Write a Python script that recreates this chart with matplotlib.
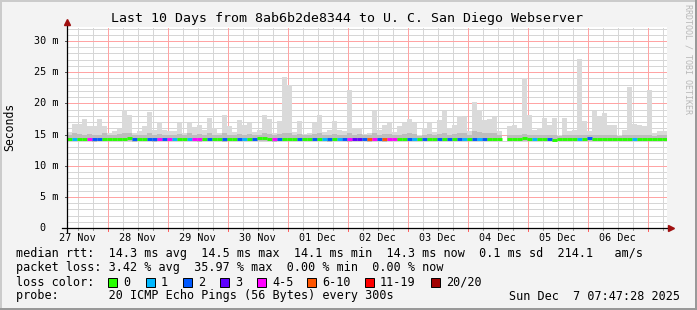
import numpy as np
import matplotlib
matplotlib.use("Agg")
import matplotlib.pyplot as plt
from matplotlib.patches import Rectangle

# 2-hour bins over the last 10 days (hours since Nov 27 07:47:28)
smoke_max = [
    15.4, 16.7, 16.7, 17.5, 16.4, 16.3, 17.5, 16.4, 15.2, 15.5,
    15.9, 18.9, 18.1, 15.2, 15.6, 16.3, 18.6, 15.7, 17.0, 15.8,
    15.6, 15.5, 16.8, 15.3, 16.9, 16.2, 16.5, 15.7, 17.6, 16.0,
    15.2, 18.1, 16.4, 15.4, 17.3, 16.5, 16.9, 15.4, 15.8, 18.1,
    17.5, 15.3, 17.2, 24.2, 22.9, 15.4, 17.1, 15.1, 15.3, 16.8,
    18.2, 15.4, 15.7, 17.1, 15.7, 15.6, 22.1, 16.0, 16.0, 15.1,
    15.3, 18.7, 15.7, 16.5, 16.9, 15.4, 16.4, 16.9, 17.5, 16.9,
    14.9, 16.0, 16.9, 15.4, 17.3, 18.8, 16.0, 16.5, 17.9, 17.8,
    15.5, 20.2, 19.0, 17.3, 17.5, 17.8, 15.5, np.nan, 16.4, 16.5,
    16.0, 24.0, 18.1, 15.8, 16.0, 17.6, 16.5, 17.6, 15.0, 17.6,
    15.5, 15.7, 27.1, 17.1, 15.5, 18.7, 17.8, 18.4, 16.5, 16.5,
    15.0, 15.7, 22.7, 16.7, 16.5, 16.3, 22.2, 15.2, 15.5, 15.5,
]
smoke_band = [
    15.0, 15.2, 15.1, 15.0, 15.1, 14.9, 15.0, 15.2, 15.0, 15.0,
    15.1, 15.3, 15.2, 15.0, 14.9, 15.0, 15.3, 15.0, 15.1, 15.0,
    15.0, 14.9, 15.1, 15.0, 15.2, 15.0, 15.1, 15.0, 15.2, 15.0,
    14.9, 15.2, 15.0, 15.0, 15.1, 15.0, 15.1, 14.9, 15.0, 15.2,
    15.1, 14.9, 15.1, 15.3, 15.2, 15.0, 15.1, 14.9, 15.0, 15.1,
    15.2, 15.0, 15.0, 15.1, 15.0, 15.0, 15.2, 15.0, 15.1, 14.9,
    15.0, 15.2, 15.0, 15.1, 15.1, 15.0, 15.0, 15.1, 15.2, 15.1,
    14.8, 15.0, 15.1, 15.0, 15.1, 15.2, 15.0, 15.1, 15.3, 15.3,
    15.0, 15.5, 15.4, 15.2, 15.2, 15.3, 15.0, np.nan, 15.0, 15.0,
    14.9, 15.1, 15.0, 14.9, 15.0, 15.0, 14.9, 15.0, 14.8, 15.0,
    14.9, 14.9, 15.0, 15.0, 14.9, 15.0, 15.0, 15.0, 14.9, 14.9,
    14.8, 14.9, 15.0, 14.9, 14.9, 15.0, 14.9, 14.8, 14.9, 14.9,
]
smoke_min = [
    13.9, 13.9, 14.0, 13.9, 13.9, 13.8, 13.9, 14.0, 13.9, 13.9,
    14.0, 13.9, 13.9, 13.8, 13.9, 14.0, 13.9, 13.8, 13.9, 13.9,
    13.9, 13.9, 14.0, 13.9, 13.9, 13.9, 13.8, 14.0, 13.9, 13.9,
    13.9, 13.8, 14.0, 13.9, 13.9, 13.9, 14.0, 13.9, 13.9, 13.9,
    13.9, 13.8, 13.9, 13.9, 13.9, 14.0, 13.9, 13.9, 14.0, 13.9,
    13.9, 13.9, 13.8, 13.9, 13.9, 13.9, 13.8, 13.9, 13.9, 13.9,
    13.8, 13.9, 13.9, 13.8, 13.9, 13.9, 14.0, 13.9, 13.9, 13.9,
    14.0, 13.9, 14.0, 13.9, 13.9, 14.0, 13.9, 14.0, 13.9, 13.9,
    14.0, 13.9, 13.9, 13.9, 14.0, 13.9, 14.0, np.nan, 14.0, 14.0,
    14.0, 13.9, 14.0, 13.9, 13.9, 13.9, 13.9, 13.8, 13.9, 14.0,
    14.0, 14.0, 13.9, 13.9, 13.9, 14.0, 14.0, 13.9, 14.0, 14.0,
    14.0, 14.0, 13.9, 14.0, 14.0, 13.9, 13.9, 14.0, 14.0, 14.0,
]
median_rtt = [
    14.2, 14.2, 14.3, 14.3, 14.3, 14.2, 14.3, 14.3, 14.2, 14.2,
    14.3, 14.3, 14.4, 14.3, 14.3, 14.3, 14.2, 14.3, 14.3, 14.3,
    14.3, 14.2, 14.3, 14.3, 14.2, 14.3, 14.2, 14.3, 14.3, 14.3,
    14.2, 14.3, 14.3, 14.3, 14.2, 14.3, 14.3, 14.3, 14.4, 14.4,
    14.3, 14.3, 14.2, 14.3, 14.3, 14.2, 14.3, 14.3, 14.3, 14.2,
    14.3, 14.2, 14.2, 14.3, 14.2, 14.3, 14.3, 14.2, 14.3, 14.3,
    14.3, 14.3, 14.3, 14.3, 14.2, 14.3, 14.3, 14.2, 14.2, 14.3,
    14.3, 14.2, 14.3, 14.3, 14.2, 14.2, 14.3, 14.3, 14.2, 14.2,
    14.3, 14.3, 14.2, 14.2, 14.3, 14.2, 14.3, np.nan, 14.3, 14.3,
    14.3, 14.4, 14.3, 14.2, 14.2, 14.3, 14.2, 14.1, 14.2, 14.3,
    14.3, 14.3, 14.3, 14.3, 14.4, 14.3, 14.3, 14.2, 14.3, 14.3,
    14.3, 14.3, 14.2, 14.3, 14.3, 14.2, 14.2, 14.3, 14.3, 14.3,
]
# index into loss_colors
loss_class = [
    0, 1, 0, 0, 4, 2, 2, 0, 0, 0, 0, 0, 0, 2, 0, 0, 2, 2, 4, 2,
    4, 1, 0, 0, 1, 4, 4, 0, 2, 0, 0, 2, 0, 0, 2, 1, 0, 2, 0, 0,
    0, 4, 2, 0, 0, 0, 2, 0, 0, 2, 0, 1, 2, 0, 1, 2, 4, 3, 3, 2,
    5, 4, 2, 5, 4, 4, 0, 0, 2, 1, 0, 2, 0, 0, 2, 0, 2, 0, 2, 1,
    0, 2, 1, 2, 0, 0, 0, 0, 0, 0, 0, 0, 0, 1, 0, 0, 2, 0, 0, 0,
    0, 0, 1, 0, 2, 0, 0, 0, 0, 0, 0, 0, 0, 1, 0, 0, 0, 0, 0, 0,
]
loss_labels = ['0', '1', '2', '3', '4-5', '6-10', '11-19', '20/20']
loss_colors = ['#26ff00', '#00b8ff', '#0059ff', '#5e00ff',
               '#ff00fe', '#ff5500', '#ff0000', '#a10000']
day_labels = ['27 Nov', '28 Nov', '29 Nov', '30 Nov', '01 Dec',
              '02 Dec', '03 Dec', '04 Dec', '05 Dec', '06 Dec']
ytick_vals = [0, 5, 10, 15, 20, 25, 30]
ytick_labels = ['0  ', '5 m', '10 m', '15 m', '20 m', '25 m', '30 m']

W, H = 697, 310
BG = '#f3f3f3'
MONO = 'DejaVu Sans Mono'

fig = plt.figure(figsize=(W / 100, H / 100), dpi=100, facecolor=BG)


def fx(px):
    return px / W


def fy(py):
    return 1 - py / H


ax = fig.add_axes([fx(67), fy(228), 600 / W, 201 / H])
ax.set_facecolor('white')
ymax = 201 / 6.233
ax.set_xlim(0, 240)
ax.set_ylim(0, ymax)
for s in ax.spines.values():
    s.set_visible(False)
ax.set_xticks([])
ax.set_yticks([])

first_midnight = 16.209
dot = (0, (1, 1))
grid_kw = dict(lw=0.72, ls=dot, antialiased=False)
minor_x = np.arange(first_midnight - 12, 240, 6)
major_x = np.arange(first_midnight, 240, 24)
for x in minor_x:
    ax.plot([x, x], [0, ymax], color='#d6d6d6', zorder=0, **grid_kw)
for y in range(1, 33):
    ax.plot([0, 240.5], [y, y], color='#d6d6d6', zorder=0, **grid_kw)
for x in major_x:
    ax.plot([x, x], [0, ymax], color='#ffa4a4', zorder=0.5, **grid_kw)
for y in ytick_vals[1:]:
    ax.plot([0, 240.5], [y, y], color='#ffa4a4', zorder=0.5, **grid_kw)

# smoke
n = len(smoke_max)
xc = np.arange(n) * 2 + 1
lo = np.array(smoke_min)
hi = np.array(smoke_max)
band = np.array(smoke_band)
ax.bar(xc, hi - lo, bottom=lo, width=2, color='#dadada', lw=0, zorder=1)
ax.bar(xc, band - lo, bottom=lo, width=2, color='#bdbdbd', lw=0, zorder=1.1)

# median coloured by loss
med = np.array(median_rtt)
ax.hlines(med, xc - 1, xc + 1, colors=[loss_colors[c] for c in loss_class],
          lw=2.1, zorder=2)

# axes with arrows
ax.plot([-2, 241], [0, 0], color='black', lw=0.9, clip_on=False, zorder=3)
ax.plot([0, 0], [-0.6, 32.7], color='black', lw=0.9, clip_on=False, zorder=3)
ax.plot([241.4], [0], marker='>', ms=4.5, color='#a01010', clip_on=False, zorder=4)
ax.plot([0], [33.0], marker='^', ms=4.5, color='#a01010', clip_on=False, zorder=4)

# ticks
for x in minor_x:
    ax.plot([x, x], [0, -0.3], color='#999999', lw=0.7, clip_on=False)
for x in major_x:
    ax.plot([x, x], [0, -0.45], color='#ff6060', lw=0.7, clip_on=False)
for y, lab in zip(ytick_vals, ytick_labels):
    ax.plot([-0.9, 0], [y, y], color='#555555', lw=0.7, clip_on=False)
    ax.text(-3.3, y, lab, ha='right', va='center', fontsize=7.3,
            family=MONO, color='black')
for k, lab in enumerate(day_labels):
    ax.text(first_midnight - 12 + 24 * k, -1.65, lab, ha='center', va='center',
            fontsize=7.3, family=MONO, color='black')

# titles
fig.text(fx(347), fy(18.5), 'Last 10 Days from 8ab6b2de8344 to U. C. San Diego Webserver',
         ha='center', va='center', fontsize=9.5, family=MONO)
fig.text(fx(10), fy(127), 'Seconds', rotation=90, ha='center', va='center',
         fontsize=8.3, family=MONO)
fig.text(fx(688), fy(4), 'RRDTOOL / TOBI OETIKER', rotation=270, ha='center',
         va='top', fontsize=6, family=MONO, color='#b8b8b8')

# legend lines
lines = [
    'median rtt:  14.3 ms avg  14.5 ms max  14.1 ms min  14.3 ms now  0.1 ms sd  214.1   am/s',
    'packet loss: 3.42 % avg  35.97 % max  0.00 % min  0.00 % now',
    'loss color:',
    'probe:       20 ICMP Echo Pings (56 Bytes) every 300s',
]
for i, t in enumerate(lines):
    fig.text(fx(16), fy(254 + 14 * i), t, ha='left', va='center',
             fontsize=8.5, family=MONO)
fig.text(fx(680), fy(296), 'Sun Dec  7 07:47:28 2025', ha='right', va='center',
         fontsize=8.5, family=MONO)

box_x = [108, 146, 183, 220, 257, 307, 365, 431]
for bx, lab, col in zip(box_x, loss_labels, loss_colors):
    fig.patches.append(Rectangle((fx(bx), fy(287)), 9 / W, 9 / H, facecolor=col,
                                 edgecolor='black', lw=0.7, transform=fig.transFigure))
    fig.text(fx(bx + 15), fy(282), lab, ha='left', va='center', fontsize=8.5, family=MONO)

# frame
edge = dict(transform=fig.transFigure, antialiased=False)
fig.add_artist(plt.Line2D([0, 1], [fy(1), fy(1)], color='#cbcbcb', lw=1.44, **edge))
fig.add_artist(plt.Line2D([fx(1), fx(1)], [0, 1], color='#cbcbcb', lw=1.44, **edge))
fig.add_artist(plt.Line2D([0, 1], [fy(309), fy(309)], color='#999999', lw=1.8, **edge))
fig.add_artist(plt.Line2D([fx(696), fx(696)], [0, 1], color='#999999', lw=1.8, **edge))

fig.savefig('out.png', dpi=100, facecolor=BG)
